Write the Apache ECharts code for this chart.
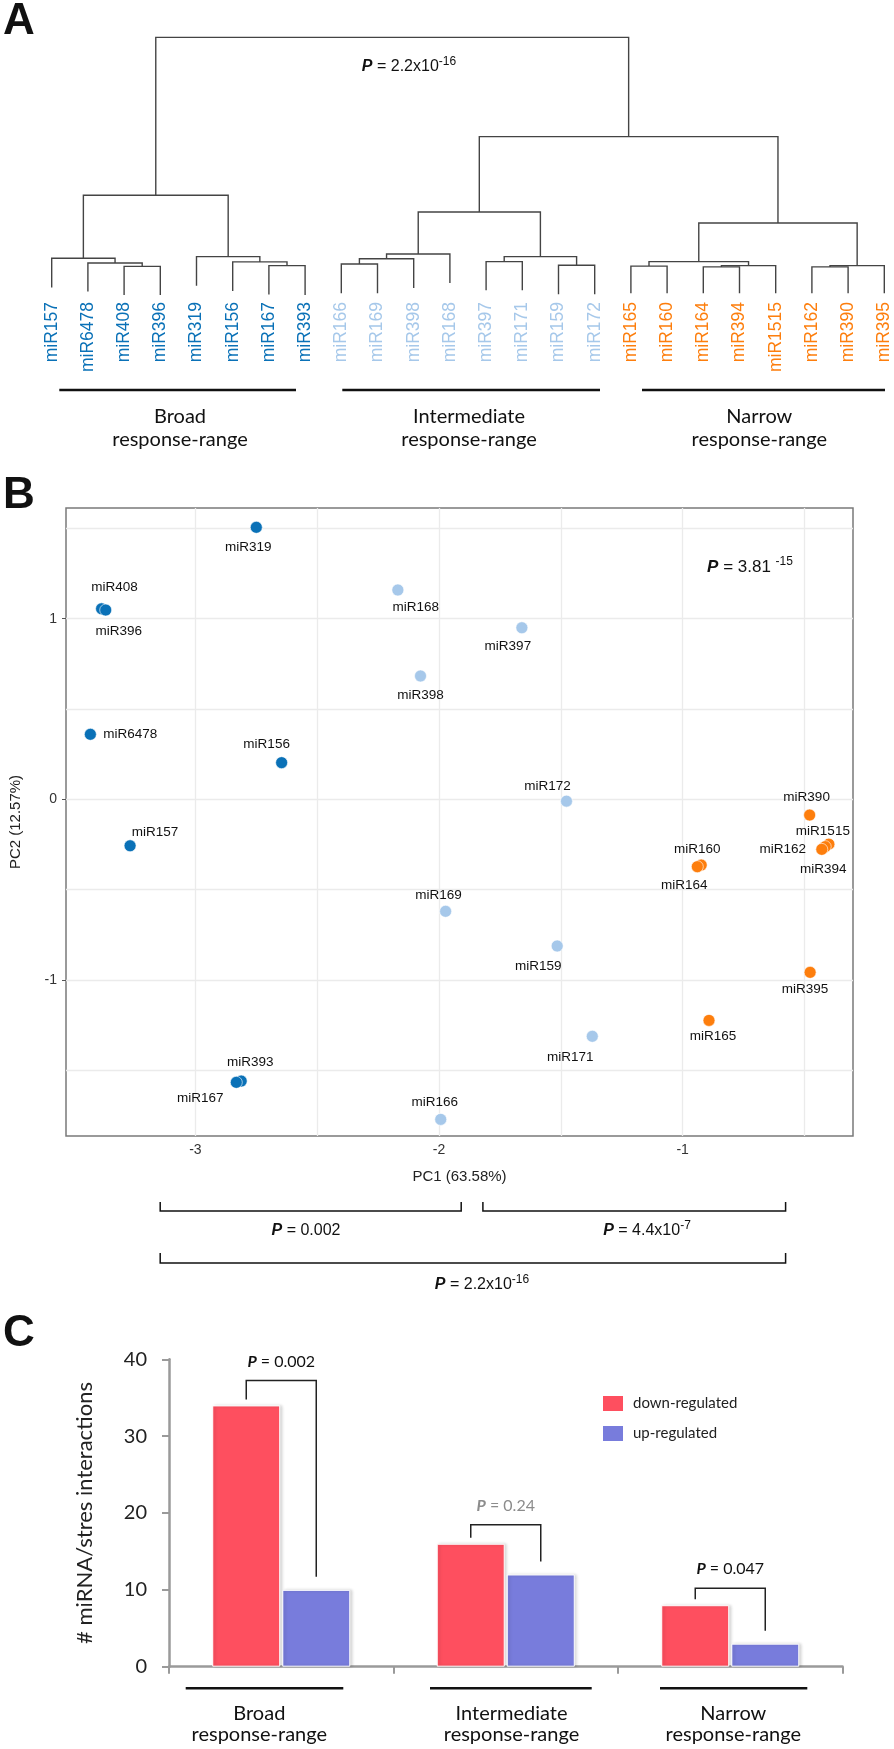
<!DOCTYPE html>
<html><head><meta charset="utf-8">
<script src="https://cdn.jsdelivr.net/npm/echarts@6/dist/echarts.min.js"></script>
<style>html,body{margin:0;padding:0;background:#fff}#c{width:894px;height:1749px}</style>
</head><body><div id="c"></div>
<script>
// ---------- Panel A: dendrogram ----------
const leafNames = ['miR157','miR6478','miR408','miR396','miR319','miR156','miR167','miR393',
  'miR166','miR169','miR398','miR168','miR397','miR171','miR159','miR172',
  'miR165','miR160','miR164','miR394','miR1515','miR162','miR390','miR395'];
const leafGroup = [0,0,0,0,0,0,0,0, 1,1,1,1,1,1,1,1, 2,2,2,2,2,2,2,2];
const leafHang = [0.048,0.032,0.019,0.019,0.054,0.034,0.021,0.019,
  0.026,0.026,0.046,0.065,0.037,0.037,0.022,0.022,
  0.026,0.026,0.026,0.026,0.026,0.026,0.026,0.026];
// R-style merge table: negative = leaf (1-based), positive = earlier merge row (1-based)
const mergeLeft  = [-3, -2, -1, -7, -6, -5, 3, -9, 8, 9, -13, -15, 11, 10, -17, -19, 16, 15, -22, 19, 18, 14, 7];
const mergeRight = [-4,  1,  2, -8,  4,  5, 6, -10, -11, -12, -14, -16, 12, 13, -18, -20, -21, 17, -23, -24, 20, 21, 22];
const mergeHeight = [0.128,0.141,0.159,0.131,0.145,0.165,0.399,0.137,0.157,0.175,0.146,0.132,0.165,0.335,
  0.129,0.126,0.131,0.146,0.126,0.131,0.293,0.622,1.0];
const groupNames = ['Broad','Intermediate','Narrow'];
const groupColors = ['#0a71b7','#a6c8ea','#fd7e0d'];

// ---------- Panel B: PCA ----------
const broadPts = [['miR319',-2.75,1.506],['miR408',-3.385,1.055],['miR396',-3.368,1.048],['miR6478',-3.431,0.36],
  ['miR156',-2.646,0.203],['miR157',-3.268,-0.257],['miR393',-2.812,-1.56],['miR167',-2.832,-1.567]];
const interPts = [['miR168',-2.169,1.159],['miR398',-2.076,0.683],['miR397',-1.66,0.95],['miR172',-1.477,-0.01],
  ['miR169',-1.973,-0.62],['miR159',-1.515,-0.812],['miR171',-1.371,-1.312],['miR166',-1.993,-1.772]];
const narrowPts = [['miR390',-0.479,-0.087],['miR1515',-0.40,-0.248],['miR394',-0.415,-0.262],['miR162',-0.429,-0.277],
  ['miR160',-0.924,-0.364],['miR164',-0.940,-0.373],['miR395',-0.477,-0.958],['miR165',-0.892,-1.224]];
const pcaXTicks = [-3,-2,-1];
const pcaYTicks = [-1,0,1];
const pcaXGrid = [-3,-2.5,-2,-1.5,-1,-0.5];
const pcaYGrid = [-1.5,-1,-0.5,0,0.5,1,1.5];

// ---------- Panel C: bars ----------
const barCats = ['Broad','Intermediate','Narrow'];
const downVals = [34,16,8];
const upVals = [10,12,3];
const barPvals = ['0.002','0.24','0.047'];

// label placement (style) for scatter labels: offset of label centre from point centre
const labelOff = {miR319:[-8,20],miR408:[13,-22],miR396:[13,21],miR168:[18,17],miR398:[0,19],miR6478:[40,0],
  miR156:[-15,-18],miR397:[-14,19],miR172:[-19,-15],miR390:[-3,-18],miR1515:[-6,-13],miR162:[-39,0],
  miR394:[-2,23],miR160:[-4,-16],miR164:[-13,19],miR169:[-7,-16],miR159:[-19,20],miR395:[-5,17],
  miR165:[4,16],miR171:[-22,21],miR157:[25,-13],miR393:[9,-19],miR167:[-36,16],miR166:[-6,-17]};

// build dendrogram polylines from the merge table
const nodeX = [], nodeH = [];
function childPos(c){
  if (c < 0) return [-c-1, leafHang[-c-1]];
  return [nodeX[c-1], nodeH[c-1]];
}
const dendroLines = [];
for (let i = 0; i < mergeHeight.length; i++){
  const L = childPos(mergeLeft[i]), R = childPos(mergeRight[i]);
  const h = mergeHeight[i];
  nodeX.push((L[0]+R[0])/2); nodeH.push(h);
  dendroLines.push({coords: [[L[0],L[1]],[L[0],h],[R[0],h],[R[0],R[1]]]});
}

function ptSeries(name, pts, color){
  return {
    type:'scatter', name, xAxisIndex:1, yAxisIndex:1, z:10, symbolSize:12,
    itemStyle:{color, borderColor:'#fff', borderWidth:0.6, opacity:1},
    label:{show:true, position:'inside', formatter:'{b}', fontSize:13.5, color:'#111',
      fontFamily:'Liberation Sans, Arial', align:'center', verticalAlign:'middle'},
    data: pts.map(p => ({name:p[0], value:[p[1],p[2]], label:{offset:labelOff[p[0]]||[0,0]}}))
  };
}

const sansA = 'Liberation Sans, Arial, sans-serif';
const sansC = 'Lato, Open Sans, sans-serif';

const option = {
  animation:false,
  backgroundColor:'#fff',
  grid:[
    {left:51.7, top:37.3, width:832.6, height:262.7},
    {left:63, top:508, width:790, height:628, show:true, borderColor:'#7a7a7a', borderWidth:1.5, backgroundColor:'transparent', z:0},
    {left:169, top:1359.3, width:673.5, height:307.4}
  ],
  xAxis:[
    {gridIndex:0, type:'value', min:0, max:23, interval:1,
      axisLine:{show:false}, axisTick:{show:false}, splitLine:{show:false},
      axisLabel:{show:true, rotate:90, margin:2, fontSize:17.5, fontFamily:sansA,
        formatter:v => leafNames[Math.round(Number(v))] || '',
        color:v => groupColors[leafGroup[Math.round(Number(v))]] || '#000'}},
    {gridIndex:1, type:'value', min:-3.531, max:-0.301,
      axisLine:{show:false}, splitLine:{show:false},
      axisTick:{show:true, length:4, lineStyle:{color:'#555'}, customValues:pcaXTicks},
      axisLabel:{customValues:pcaXTicks, fontSize:14, color:'#333', margin:7, fontFamily:sansA},
      name:'PC1 (63.58%)', nameLocation:'middle', nameGap:33,
      nameTextStyle:{fontSize:15, color:'#222', fontFamily:sansA}},
    {gridIndex:2, type:'category', data:barCats,
      axisLine:{lineStyle:{color:'#9a9a9a', width:2.5}},
      axisTick:{show:true, length:7, alignWithLabel:false, lineStyle:{color:'#9a9a9a', width:2}},
      axisLabel:{show:false}}
  ],
  yAxis:[
    {gridIndex:0, type:'value', min:0, max:1, show:false},
    {gridIndex:1, type:'value', min:-1.864, max:1.613,
      axisLine:{show:false}, splitLine:{show:false},
      axisTick:{show:true, length:4, lineStyle:{color:'#555'}, customValues:pcaYTicks},
      axisLabel:{customValues:pcaYTicks, fontSize:14, color:'#333', margin:9, fontFamily:sansA},
      name:'PC2 (12.57%)', nameLocation:'middle', nameGap:43,
      nameTextStyle:{fontSize:15, color:'#222', fontFamily:sansA}},
    {gridIndex:2, type:'value', min:0, max:40, interval:10,
      axisLine:{show:true, lineStyle:{color:'#9a9a9a', width:2.5}},
      axisTick:{show:true, length:7, lineStyle:{color:'#9a9a9a', width:2}},
      splitLine:{show:false},
      axisLabel:{fontSize:20, color:'#222', margin:22, fontFamily:sansC},
      name:'# miRNA/stres interactions', nameLocation:'middle', nameGap:73,
      nameTextStyle:{fontSize:22, color:'#222', fontFamily:sansC}}
  ],
  legend:{
    data:['down-regulated','up-regulated'], orient:'vertical', left:601, top:1394,
    padding:0, itemWidth:22, itemHeight:17, itemGap:11, icon:'rect',
    textStyle:{fontSize:15, color:'#222', fontFamily:sansC, padding:[0,0,0,4]}
  },
  series:[
    {type:'lines', coordinateSystem:'cartesian2d', xAxisIndex:0, yAxisIndex:0, polyline:true,
      silent:true, lineStyle:{color:'#444', width:1.4, opacity:1}, data:dendroLines},
    {type:'scatter', xAxisIndex:1, yAxisIndex:1, z:1, data:[], silent:true,
      markLine:{silent:true, z:1, symbol:['none','none'], label:{show:false},
        lineStyle:{color:'#ebebeb', width:1.3, type:'solid'},
        data:[...pcaXGrid.map(v=>({xAxis:v})), ...pcaYGrid.map(v=>({yAxis:v}))]}},
    ptSeries('Broad', broadPts, groupColors[0]),
    ptSeries('Intermediate', interPts, groupColors[1]),
    ptSeries('Narrow', narrowPts, groupColors[2]),
    {type:'bar', name:'down-regulated', xAxisIndex:2, yAxisIndex:2, data:downVals, barWidth:68, barGap:'3%',
      itemStyle:{color:'#fe4f5f', borderColor:'#fff', borderWidth:1, shadowColor:'rgba(0,0,0,0.18)', shadowBlur:3, shadowOffsetX:2}},
    {type:'bar', name:'up-regulated', xAxisIndex:2, yAxisIndex:2, data:upVals, barWidth:68, barGap:'3%',
      itemStyle:{color:'#787cdc', borderColor:'#fff', borderWidth:1, shadowColor:'rgba(0,0,0,0.18)', shadowBlur:3, shadowOffsetX:2}}
  ]
};

const chart = echarts.init(document.getElementById('c'), null, {renderer:'canvas'});
chart.setOption(option);

function pText(x, y, rest, sup, size, color, family){
  const rich = {
    p:{fontSize:size, fontWeight:'bold', fontStyle:'italic', fontFamily:family, fill:color, lineHeight:size+6},
    n:{fontSize:size, fontFamily:family, fill:color, lineHeight:size+6},
    s:{fontSize:Math.round(size*0.72), fontFamily:family, fill:color, verticalAlign:'top', lineHeight:size*0.7}
  };
  return {type:'text', x, y, z:100, style:{text:'{p|P}{n| = '+rest+'}'+(sup?'{s|'+sup+'}':''), rich,
    align:'center', verticalAlign:'middle'}};
}
function pline(points, width, color){
  return {type:'polyline', z:100, shape:{points}, style:{stroke:color||'#111', lineWidth:width||1.5, fill:null}};
}
function txt(x, y, text, size, family, extra){
  return Object.assign({type:'text', x, y, z:100, style:Object.assign({text, fontSize:size, fontFamily:family,
    fill:'#111', align:'center', verticalAlign:'middle', lineHeight:size+3}, extra||{})});
}

const g = [];
// panel letters
g.push(txt(3, 21.5, 'A', 44, sansA, {fontWeight:'bold', align:'left'}));
g.push(txt(3, 495.5, 'B', 44, sansA, {fontWeight:'bold', align:'left'}));
g.push(txt(3, 1333.5, 'C', 44, sansA, {fontWeight:'bold', align:'left'}));
// panel A
g.push(pText(409, 66.7, '2.2x10', '-16', 16, '#111', sansA));
const aLines = [[59.3,296],[342.3,600],[642,885]];
const aTextX = [180,469,759.3];
aLines.forEach((l,i)=>{
  g.push(pline([[l[0],390],[l[1],390]], 2.5));
  g.push(txt(aTextX[i], 428, groupNames[i]+'\nresponse-range', 20, sansC, {lineHeight:22.6}));
});
// panel B
g.push(pText(750, 567, '3.81 ', '-15', 17, '#111', sansA));
g.push(pline([[160.2,1202],[160.2,1211],[461.2,1211],[461.2,1202]], 1.5));
g.push(pline([[482.9,1202],[482.9,1211],[785.6,1211],[785.6,1202]], 1.5));
g.push(pline([[160.2,1253],[160.2,1263],[785.6,1263],[785.6,1253]], 1.5));
g.push(pText(306, 1231, '0.002', '', 16, '#111', sansA));
g.push(pText(647, 1231, '4.4x10', '-7', 16, '#111', sansA));
g.push(pText(482, 1285, '2.2x10', '-16', 16, '#111', sansA));
// panel C brackets from bar scales
const topGap = [25,19,17];
for (let i=0;i<barCats.length;i++){
  const cx = chart.convertToPixel({xAxisIndex:2}, barCats[i]);
  const yd = chart.convertToPixel({yAxisIndex:2}, downVals[i]);
  const yu = chart.convertToPixel({yAxisIndex:2}, upVals[i]);
  const xl = cx-35, xr = cx+35, top = yd-topGap[i];
  g.push(pline([[xl,yd-6],[xl,top],[xr,top],[xr,yu-13]], 1.5, '#222'));
  g.push(pText(cx, top-19, barPvals[i], '', 16, i===1?'#8c8c8c':'#111', sansC));
}
const cLines = [[185.7,343.3],[430,591.7],[660,807.3]];
const cTextX = [259.3,511.5,733.3];
cLines.forEach((l,i)=>{
  g.push(pline([[l[0],1688.3],[l[1],1688.3]], 2.5));
  g.push(txt(cTextX[i], 1724, groupNames[i]+'\nresponse-range', 20, sansC, {lineHeight:21.7}));
});
chart.setOption({graphic:g});
</script></body></html>
